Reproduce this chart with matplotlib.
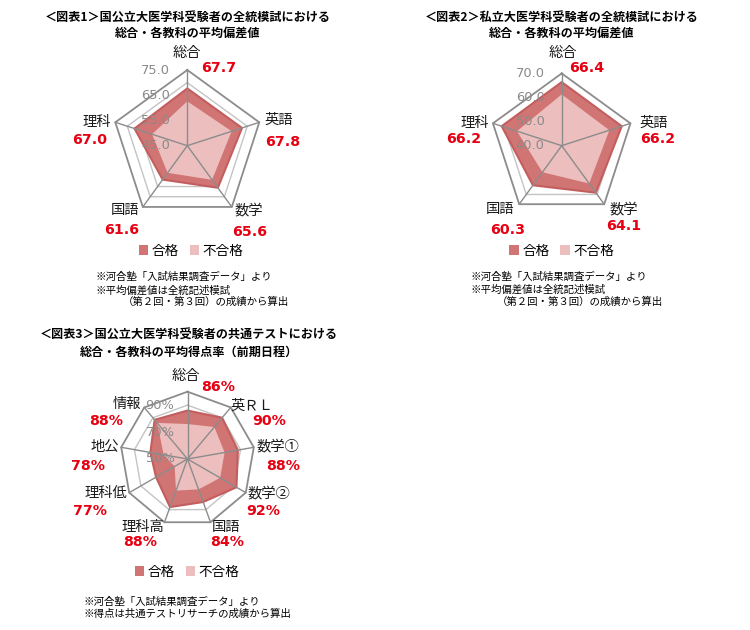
import matplotlib
matplotlib.use('Agg')
import matplotlib.pyplot as plt
import numpy as np
from matplotlib.transforms import offset_copy
from matplotlib.patches import Patch

plt.rcParams['font.family'] = ['Noto Sans CJK JP', 'DejaVu Sans']

# ---------------- data ----------------
cats1 = ['総合', '英語', '数学', '国語', '理科']
pass1 = [67.7, 67.8, 65.6, 61.6, 67.0]
fail1 = [62.6, 63.5, 61.7, 58.3, 59.7]
pass1_labels = ['67.7', '67.8', '65.6', '61.6', '67.0']
ticks1 = [75, 65, 55, 45]
ticklabels1 = ['75.0', '65.0', '55.0', '45.0']

cats2 = ['総合', '英語', '数学', '国語', '理科']
pass2 = [66.4, 66.2, 64.1, 60.3, 66.2]
fail2 = [61.3, 60.8, 59.4, 53.6, 59.5]
pass2_labels = ['66.4', '66.2', '64.1', '60.3', '66.2']
ticks2 = [70, 60, 50, 40]
ticklabels2 = ['70.0', '60.0', '50.0', '40.0']

cats3 = ['総合', '英ＲＬ', '数学①', '数学②', '国語', '理科高', '理科低', '地公', '情報']
pass3 = [86, 90, 88, 92, 84, 88, 77, 78, 88]
fail3 = [76, 81, 78, 78, 74, 75, 61, 68, 85]
pass3_labels = ['86%', '90%', '88%', '92%', '84%', '88%', '77%', '78%', '88%']
ticks3 = [90, 70, 50]
ticklabels3 = ['90%', '70%', '50%']

legend_labels = ['合格', '不合格']

# ---------------- style ----------------
PASS_C = '#D07474'
PASS_EDGE = '#C45E5E'
FAIL_C = '#EDBEBE'
RED = '#E60012'
W, H = 750, 630

fig = plt.figure(figsize=(7.5, 6.3), dpi=100)


def fx(x):
    return x / W


def fy(y):
    return 1 - y / H


def radar(cx, cy, R, n, p, f, rmin, rmax, rings, ticks, ticklabels, tick_dx):
    ax = fig.add_axes([(cx - R) / W, 1 - (cy + R) / H, 2 * R / W, 2 * R / H],
                      projection='polar')
    th = np.arange(n) * 2 * np.pi / n
    thc = np.append(th, th[0])
    ax.set_theta_zero_location('N')
    ax.set_theta_direction(-1)
    ax.set_ylim(rmin, rmax)
    ax.set_xticks([])
    ax.set_yticks([])
    ax.grid(False)
    ax.spines['polar'].set_visible(False)
    ax.patch.set_alpha(0)
    for v in rings:
        ax.plot(thc, [v] * (n + 1), color='#C4C4C4', lw=1.0, zorder=1, clip_on=False)
    ax.plot(thc, [rmax] * (n + 1), color='#8C8C8C', lw=1.3, zorder=1, clip_on=False)
    ax.fill(thc, np.append(p, p[0]), facecolor=PASS_C, edgecolor=PASS_EDGE,
            lw=1.5, zorder=2, clip_on=False)
    ax.fill(thc, np.append(f, f[0]), facecolor=FAIL_C, edgecolor='none',
            zorder=3, clip_on=False)
    for t in th:
        ax.plot([t, t], [rmin, rmax], color='#8C8C8C', lw=1.0, zorder=4, clip_on=False)
    tr = offset_copy(ax.transData, fig=fig, x=tick_dx, y=0, units='dots')
    for v, l in zip(ticks, ticklabels):
        ax.text(0, v, l, transform=tr, ha='right', va='center', color='#8A8A8A',
                fontsize=9.4, family='DejaVu Sans', zorder=5)
    return ax


def labels(cats, vals, cat_pos, val_pos):
    for c, (x, y) in zip(cats, cat_pos):
        fig.text(fx(x), fy(y), c, ha='center', va='center', fontsize=10.3, color='#1a1a1a')
    for v, (x, y) in zip(vals, val_pos):
        fig.text(fx(x), fy(y), v, ha='center', va='center', fontsize=10.2,
                 color=RED, weight='bold', family='DejaVu Sans')


def legend(cx, cy):
    handles = [Patch(facecolor=PASS_C, edgecolor='none'),
               Patch(facecolor=FAIL_C, edgecolor='none')]
    fig.legend(handles, legend_labels, loc='center', bbox_to_anchor=(fx(cx), fy(cy)),
               ncol=2, frameon=False, fontsize=9.8, handlelength=0.7,
               handleheight=0.7, handletextpad=0.25, columnspacing=0.8,
               borderpad=0, borderaxespad=0)


# ---------------- chart 1 ----------------
fig.text(fx(187.5), fy(18.3), '＜図表1＞国公立大医学科受験者の全統模試における',
         ha='center', va='center', fontsize=8.7, weight='bold')
fig.text(fx(187.5), fy(33.3), '総合・各教科の平均偏差値',
         ha='center', va='center', fontsize=8.7, weight='bold')
radar(187.3, 145.7, 75.7, len(cats1), pass1, fail1, 45, 75,
      [50, 55, 60, 65, 70], ticks1, ticklabels1, -17)
labels(cats1, pass1_labels,
       [(187, 53.5), (278.3, 120), (248.3, 210.7), (125, 210), (96.7, 121.7)],
       [(219, 68.3), (282.7, 141.7), (250, 231.7), (121.7, 230), (90, 140)])
legend(191, 250.7)
fig.text(fx(95), fy(277.3), '※河合塾「入試結果調査データ」より', ha='left', va='center', fontsize=7.5)
fig.text(fx(95), fy(290.3), '※平均偏差値は全統記述模試', ha='left', va='center', fontsize=7.5)
fig.text(fx(123), fy(302), '（第２回・第３回）の成績から算出', ha='left', va='center', fontsize=7.5)

# ---------------- chart 2 ----------------
fig.text(fx(562), fy(18.3), '＜図表2＞私立大医学科受験者の全統模試における',
         ha='center', va='center', fontsize=8.7, weight='bold')
fig.text(fx(562), fy(33.3), '総合・各教科の平均偏差値',
         ha='center', va='center', fontsize=8.7, weight='bold')
radar(561.7, 145.7, 72.3, len(cats2), pass2, fail2, 40, 70,
      [45, 50, 55, 60, 65], ticks2, ticklabels2, -17)
labels(cats2, pass2_labels,
       [(562.7, 53.3), (653.3, 123.3), (623.3, 209.3), (500, 209.3), (475, 123.3)],
       [(586.7, 68.3), (657.3, 139.3), (624, 225.7), (507.3, 230), (463.3, 139.3)])
legend(561.7, 250.7)
fig.text(fx(470), fy(276.7), '※河合塾「入試結果調査データ」より', ha='left', va='center', fontsize=7.5)
fig.text(fx(470), fy(290), '※平均偏差値は全統記述模試', ha='left', va='center', fontsize=7.5)
fig.text(fx(497), fy(302), '（第２回・第３回）の成績から算出', ha='left', va='center', fontsize=7.5)

# ---------------- chart 3 ----------------
fig.text(fx(188.5), fy(335), '＜図表3＞国公立大医学科受験者の共通テストにおける',
         ha='center', va='center', fontsize=8.7, weight='bold')
fig.text(fx(188.5), fy(352), '総合・各教科の平均得点率（前期日程）',
         ha='center', va='center', fontsize=8.7, weight='bold')
radar(187.5, 459, 67.3, len(cats3), pass3, fail3, 50, 100,
      [70, 90], ticks3, ticklabels3, -13)
labels(cats3, pass3_labels,
       [(186, 376), (251.7, 406), (278.3, 446), (269.3, 493.3), (226, 526.7),
        (143.3, 526.7), (106, 493.3), (105, 446.7), (127.3, 404)],
       [(218.3, 386.7), (269.3, 420.7), (282.7, 466), (263.3, 510.7), (226.7, 541.7),
        (140, 541.7), (90, 510.7), (88.3, 466), (106, 420.7)])
legend(187, 571.7)
fig.text(fx(83.3), fy(601.7), '※河合塾「入試結果調査データ」より', ha='left', va='center', fontsize=7.5)
fig.text(fx(83.3), fy(613.3), '※得点は共通テストリサーチの成績から算出', ha='left', va='center', fontsize=7.5)

fig.savefig('out.png', dpi=100)
